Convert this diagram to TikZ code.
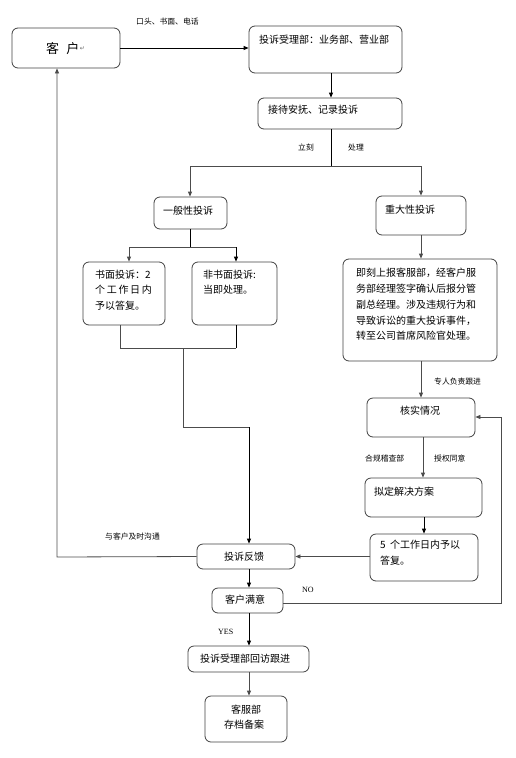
\documentclass[tikz,border=0pt]{standalone}
\usepackage{fontspec}
\setmainfont{Liberation Serif}
\newfontfamily\cjk{Noto Sans CJK SC}
\newfontfamily\djv{DejaVu Sans}
\usetikzlibrary{arrows.meta,positioning,calc}
\tikzset{
  box/.style={draw=black!75, line width=0.8pt, rounded corners=6pt, inner sep=0pt},
  line/.style={draw=black!70, line width=0.8pt},
  arr/.style={line, -{Triangle[length=5pt,width=4pt]}},
  txt/.style={inner sep=0pt, anchor=west, font=\cjk\fontsize{10}{12}\selectfont},
  lbl/.style={inner sep=0pt, anchor=west, font=\cjk\fontsize{7.8}{9}\selectfont},
  lat/.style={inner sep=0pt, anchor=west, font=\fontsize{8}{10}\selectfont},
}
\newcommand{\bx}[5]{\node[box, minimum width={#4-#2}, minimum height={#5-#3}] (#1) at ({(#2+#4)/2},{(#3+#5)/2}) {};}
\begin{document}
\begin{tikzpicture}[x=1pt,y=-1pt]
\useasboundingbox (0,0) rectangle (516,758);
% boxes
\bx{kehu}{12}{28}{120}{68}
\bx{shouli}{249}{26}{402}{73}
\bx{jiedai}{258}{98}{402}{129}
\bx{yiban}{154}{197}{227}{229}
\bx{zhongda}{376}{196}{466}{235}
\bx{shumian}{83}{262}{165}{325}
\bx{feishu}{192}{262}{277}{325}
\bx{big}{343}{259}{497}{361}
\bx{hesh}{367}{398}{475}{437}
\bx{niding}{365}{478}{482}{517}
\bx{wuge}{370}{534}{478}{581}
\bx{fankui}{197}{544}{295}{569}
\bx{manyi}{212}{588}{283}{613}
\bx{huifang}{188}{646}{309}{672}
\bx{cundang}{205}{696}{287}{742}
% texts
\node[txt, font=\cjk\fontsize{13}{15}\selectfont] (t-kehu) at (46,49) {客\hspace{0.55em}户};
\node[inner sep=0pt, anchor=west, font=\djv\fontsize{6}{7}\selectfont, text=black!60] (t-ret) at (t-kehu.east) {↵};
\node[txt] (t-shouli) at (259,40) {投诉受理部：业务部、营业部};
\node[txt] (t-jiedai) at (268,110) {接待安抚、记录投诉};
\node[txt] (t-yiban) at (163,211) {一般性投诉};
\node[txt] (t-zhongda) at (385,210) {重大性投诉};
\node[txt, anchor=north west, align=left, font=\cjk\fontsize{10}{15.2}\selectfont] (t-shumian) at (95,270) {书面投诉：2\\个\,工\,作\,日\,内\\予以答复。};
\node[txt, anchor=north west, align=left, font=\cjk\fontsize{10}{15.2}\selectfont] (t-feishu) at (203,270) {非书面投诉:\\当即处理。};
\node[txt, anchor=north west, align=left, font=\cjk\fontsize{10}{15.8}\selectfont] (t-big) at (356,268) {即刻上报客服部，经客户服\\务部经理签字确认后报分管\\副总经理。涉及违规行为和\\导致诉讼的重大投诉事件，\\转至公司首席风险官处理。};
\node[txt] (t-hesh) at (400,411) {核实情况};
\node[txt] (t-niding) at (374,492) {拟定解决方案};
\node[txt, anchor=north west, align=left, font=\cjk\fontsize{10}{15.5}\selectfont] (t-wuge) at (380,540) {5\ \ 个工作日内予以\\答复。};
\node[txt] (t-fankui) at (224,557) {投诉反馈};
\node[txt] (t-manyi) at (225,600) {客户满意};
\node[txt] (t-huifang) at (200,659) {投诉受理部回访跟进};
\node[txt, anchor=center] (t-kf) at (246,710) {客服部};
\node[txt, anchor=center] (t-cd) at (244,725) {存档备案};
% labels
\node[lbl] (l-kt) at (136,22) {口头、书面、电话};
\node[lbl] (l-lk) at (298,148) {立刻};
\node[lbl] (l-cl) at (348,148) {处理};
\node[lbl] (l-zr) at (434,382) {专人负责跟进};
\node[lbl] (l-hg) at (365,459) {合规稽查部};
\node[lbl] (l-sq) at (434,459) {授权同意};
\node[lbl] (l-gt) at (105,537) {与客户及时沟通};
\node[lat] (l-no) at (302,590) {NO};
\node[lat] (l-yes) at (218,632) {YES};
% coordinates
\coordinate (c1) at (331,166);
\coordinate (c1l) at (190,166);
\coordinate (c1r) at (421,166);
\coordinate (c2) at (190,247);
\coordinate (c2l) at (129,247);
\coordinate (c2r) at (236,247);
\coordinate (m1) at (120,348);
\coordinate (m2) at (236,348);
\coordinate (mm) at (183,348);
\coordinate (mj) at (183,427);
\coordinate (mk) at (249,427);
\coordinate (lb) at (57,557);
\coordinate (rb) at (501,603);
\coordinate (rt) at (501,417);
% connectors
\draw[arr, draw=black] (kehu.east) -- (shouli.west |- kehu.east);
\draw[arr, draw=black] (shouli.south -| 331,0) -- (jiedai.north -| 331,0);
\draw[line, draw=black] (jiedai.south -| c1) -- (c1);
\draw[line] (c1l) -- (c1r);
\draw[arr] (c1l) -- (yiban.north -| c1l);
\draw[arr] (c1r) -- (zhongda.north -| c1r);
\draw[line, draw=black] (yiban.south -| c2) -- (c2);
\draw[line] (c2l) -- (c2r);
\draw[arr] (c2l) -- (shumian.north -| c2l);
\draw[arr, draw=black] (c2r) -- (feishu.north -| c2r);
\draw[line] (shumian.south -| m1) -- (m1) -- (m2);
\draw[line, draw=black] (m2) -- (feishu.south -| m2);
\draw[line] (mm) -- (mj) -- (mk);
\draw[arr, draw=black] (mk) -- (fankui.north -| mk);
\draw[arr] (zhongda.south -| c1r) -- (big.north -| c1r);
\draw[arr] (big.south -| c1r) -- (hesh.north -| c1r);
\draw[arr] (hesh.south -| 423,0) -- (niding.north -| 423,0);
\draw[arr, draw=black] (niding.south -| 424,0) -- (wuge.north -| 424,0);
\draw[arr] (wuge.west |- fankui.east) -- (fankui.east);
\draw[arr] (fankui.west) -- (lb) -- (kehu.south -| lb);
\draw[arr, draw=black] (fankui.south -| mk) -- (manyi.north -| mk);
\draw[arr] (manyi.east |- rb) -- (rb) -- (rt) -- (hesh.east |- rt);
\draw[arr, draw=black] (manyi.south -| mk) -- (huifang.north -| mk);
\draw[arr] (huifang.south -| mk) -- (cundang.north -| mk);
\end{tikzpicture}
\end{document}
